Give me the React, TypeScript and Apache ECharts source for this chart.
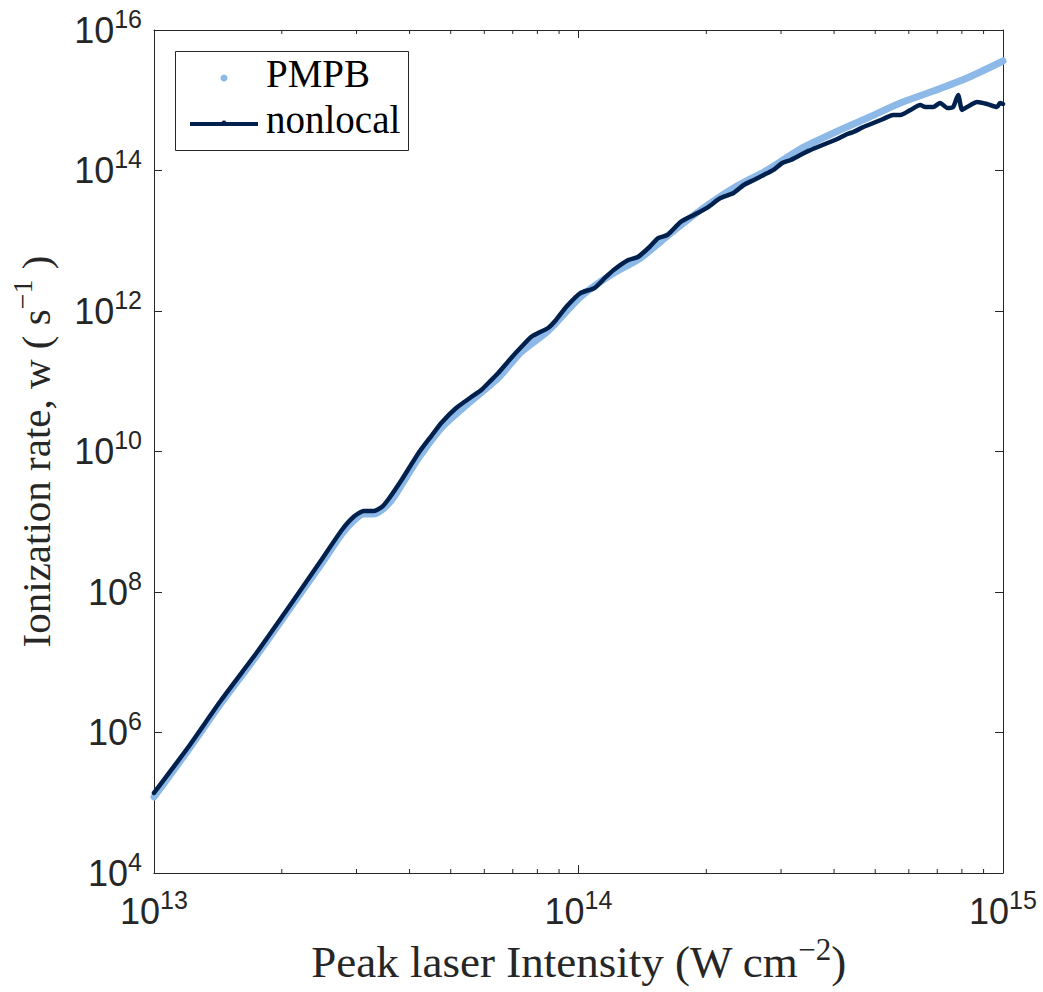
import React, { useEffect, useRef } from "react";
import * as echarts from "echarts";

// ---- data ----
const intensityNonlocal = [
  1.0e13, 1.2e13, 1.44e13, 1.75e13, 2.11e13, 2.46e13, 2.77e13, 2.95e13, 3.12e13, 3.29e13,
  3.44e13, 3.57e13, 3.83e13, 4.2e13, 4.5e13, 4.75e13, 5.15e13, 5.59e13, 5.9e13, 6.23e13,
  6.47e13, 6.94e13, 7.33e13, 7.73e13, 8.03e13, 8.48e13, 8.85e13, 9.35e13, 1.01e14, 1.09e14,
  1.16e14, 1.21e14, 1.31e14, 1.38e14, 1.47e14, 1.54e14, 1.62e14, 1.74e14, 1.87e14, 2.02e14,
  2.16e14, 2.32e14, 2.45e14, 2.59e14, 2.73e14, 2.88e14, 3.02e14, 3.16e14, 3.33e14, 3.48e14,
  3.66e14, 3.86e14, 4.07e14, 4.3e14, 4.44e14, 4.69e14, 4.95e14, 5.22e14, 5.51e14, 5.73e14,
  6.05e14, 6.38e14, 6.56e14, 6.85e14, 7.11e14, 7.39e14, 7.63e14, 7.84e14, 8.01e14, 8.23e14,
  8.69e14, 9.17e14, 9.68e14, 9.84e14, 1.0e15,
];
const rateNonlocal = [
  1.38e5, 6.01e5, 2.9e6, 1.4e7, 6.97e7, 2.67e8, 7.63e8, 1.17e9, 1.42e9, 1.42e9,
  1.62e9, 2.11e9, 3.93e9, 9.52e9, 1.66e10, 2.55e10, 4.16e10, 5.97e10, 7.5e10, 1.04e11,
  1.31e11, 2.14e11, 3.07e11, 4.27e11, 4.86e11, 5.73e11, 7.45e11, 1.14e12, 1.8e12, 2.12e12,
  3.05e12, 3.84e12, 5.32e12, 5.87e12, 8.15e12, 1.09e13, 1.21e13, 1.85e13, 2.33e13, 3.02e13,
  4.06e13, 4.79e13, 6.22e13, 7.33e13, 8.63e13, 1.02e14, 1.28e14, 1.41e14, 1.66e14, 1.9e14,
  2.16e14, 2.46e14, 2.81e14, 3.31e14, 3.53e14, 4.16e14, 4.74e14, 5.41e14, 6.17e14, 6.17e14,
  7.27e14, 8.56e14, 8.02e14, 8.02e14, 9.14e14, 7.76e14, 8.02e14, 1.19e15, 7.27e14, 8.02e14,
  9.44e14, 8.85e14, 8.02e14, 9.14e14, 8.85e14,
];
const intensityPMPB = [
  1.0e13, 1.2e13, 1.44e13, 1.75e13, 2.11e13, 2.46e13, 2.77e13, 2.95e13, 3.12e13, 3.29e13,
  3.44e13, 3.63e13, 3.83e13, 4.2e13, 4.75e13, 5.59e13, 6.47e13, 7.33e13, 8.48e13, 1.01e14,
  1.19e14, 1.4e14, 1.62e14, 1.94e14, 2.32e14, 2.79e14, 3.33e14, 3.99e14, 4.79e14, 5.73e14,
  6.85e14, 8.23e14, 1.0e15,
];
const ratePMPB = [
  1.21e5, 5.46e5, 2.63e6, 1.27e7, 6.32e7, 2.34e8, 6.7e8, 1.03e9, 1.29e9, 1.29e9,
  1.47e9, 2.04e9, 3.34e9, 8.08e9, 2.16e10, 5.24e10, 1.11e11, 2.61e11, 5.19e11, 1.58e12,
  3.25e12, 5.68e12, 1.17e13, 2.74e13, 5.64e13, 1.02e14, 2.02e14, 3.42e14, 5.59e14, 9.14e14,
  1.35e15, 2.07e15, 3.62e15,
];
const xMinorTicks = [
  2e13, 3e13, 4e13, 5e13, 6e13, 7e13, 8e13, 9e13,
  2e14, 3e14, 4e14, 5e14, 6e14, 7e14, 8e14, 9e14,
];
const xRange = [1e13, 1e15];
const yRange = [1e4, 1e16];
const seriesNames = ["PMPB", "nonlocal"];
const xTitle = ["Peak laser Intensity (W cm", "\u22122", ")"];
const yTitle = ["Ionization rate, w ( s", "\u22121", " )"];

// ---- styles ----
const AXIS_COLOR = "#262626";
const PMPB_COLOR = "#8cb9e8";
const NONLOCAL_COLOR = "#00204e";
const SANS = "'Liberation Sans', Arial, Helvetica, sans-serif";
const SERIF = "'Liberation Serif', 'Times New Roman', serif";

const tickRich = {
  b: { fontSize: 36, lineHeight: 48, fontFamily: SANS, color: AXIS_COLOR },
  s: { fontSize: 25, lineHeight: 20, verticalAlign: "top", fontFamily: SANS, color: AXIS_COLOR },
};
const titleRich = (size: number) => ({
  t: { fontSize: size, lineHeight: 56, fontFamily: SERIF, color: AXIS_COLOR },
  s: { fontSize: Math.round(size * 0.68), lineHeight: 46, verticalAlign: "top", fontFamily: SERIF, color: AXIS_COLOR },
});
const powerLabel = (v: number) => `{b|10}{s|${Math.round(Math.log10(v))}}`;

export default function App() {
  const ref = useRef<HTMLDivElement>(null);
  useEffect(() => {
    if (!ref.current) return;
    const chart = echarts.init(ref.current, undefined, { renderer: "svg" });
    const axisLine = { show: true, onZero: false, lineStyle: { color: AXIS_COLOR, width: 1 } };
    const option: any = {
      animation: false,
      backgroundColor: "#ffffff",
      grid: { left: 152, right: 40, top: 30, bottom: 119, containLabel: false },
      xAxis: [
        {
          type: "log", logBase: 10, min: xRange[0], max: xRange[1], interval: 1, position: "bottom",
          axisLine, axisTick: { show: true, inside: true, length: 8, lineStyle: { color: AXIS_COLOR } },
          axisLabel: { formatter: powerLabel, rich: tickRich, margin: 14 },
          splitLine: { show: false }, minorTick: { show: false },
          name: `{t|${xTitle[0]}}{s|${xTitle[1]}}{t|${xTitle[2]}}`,
          nameLocation: "middle", nameGap: 60,
          nameTextStyle: { rich: titleRich(45) },
        },
        {
          type: "log", logBase: 10, min: xRange[0], max: xRange[1], interval: 1, position: "top",
          axisLine, axisTick: { show: true, inside: true, length: 8, lineStyle: { color: AXIS_COLOR } },
          axisLabel: { show: false }, splitLine: { show: false },
        },
      ],
      yAxis: [
        {
          type: "log", logBase: 10, min: yRange[0], max: yRange[1], interval: 2, position: "left",
          axisLine, axisTick: { show: true, inside: true, length: 8, lineStyle: { color: AXIS_COLOR } },
          axisLabel: { formatter: powerLabel, rich: tickRich, margin: 12 },
          splitLine: { show: false },
          name: `{t|${yTitle[0]}}{s|${yTitle[1]}}{t|${yTitle[2]}}`,
          nameLocation: "middle", nameGap: 90, nameRotate: 90,
          nameTextStyle: { rich: titleRich(41) },
        },
        {
          type: "log", logBase: 10, min: yRange[0], max: yRange[1], interval: 2, position: "right",
          axisLine, axisTick: { show: true, inside: true, length: 8, lineStyle: { color: AXIS_COLOR } },
          axisLabel: { show: false }, splitLine: { show: false },
        },
      ],
      series: [
        {
          name: seriesNames[0], type: "line", xAxisIndex: 0, yAxisIndex: 0,
          data: intensityPMPB.map((x, i) => [x, ratePMPB[i]]),
          showSymbol: false, smooth: 0.25,
          lineStyle: { color: PMPB_COLOR, width: 7, cap: "round", join: "round" },
          z: 2,
        },
        {
          name: seriesNames[1], type: "line", xAxisIndex: 0, yAxisIndex: 0,
          data: intensityNonlocal.map((x, i) => [x, rateNonlocal[i]]),
          showSymbol: false, smooth: 0.2,
          lineStyle: { color: NONLOCAL_COLOR, width: 4.5, cap: "round", join: "round" },
          z: 3,
        },
        {
          name: "minorTicks", type: "custom", xAxisIndex: 0, yAxisIndex: 0,
          data: xMinorTicks.map((v) => [v, yRange[0]]),
          clip: false, silent: true, z: 5,
          renderItem: (_params: any, api: any) => {
            const b = api.coord([api.value(0), yRange[0]]);
            const t = api.coord([api.value(0), yRange[1]]);
            return {
              type: "group",
              children: [
                { type: "line", shape: { x1: b[0], y1: b[1], x2: b[0], y2: b[1] - 4 }, style: { stroke: AXIS_COLOR, lineWidth: 1 } },
                { type: "line", shape: { x1: t[0], y1: t[1], x2: t[0], y2: t[1] + 4 }, style: { stroke: AXIS_COLOR, lineWidth: 1 } },
              ],
            };
          },
        },
      ],
      graphic: [
        {
          type: "group", z: 100,
          children: [
            { type: "rect", shape: { x: 175.5, y: 51.5, width: 233, height: 99 }, style: { fill: "#ffffff", stroke: AXIS_COLOR, lineWidth: 1 } },
            { type: "circle", shape: { cx: 224, cy: 78, r: 3.5 }, style: { fill: PMPB_COLOR } },
            { type: "text", x: 266, y: 73, style: { text: seriesNames[0], font: `39px ${SERIF}`, fill: "#000000", verticalAlign: "middle", align: "left" } },
            { type: "line", shape: { x1: 190, y1: 124, x2: 258, y2: 124 }, style: { stroke: NONLOCAL_COLOR, lineWidth: 4 } },
            { type: "circle", shape: { cx: 224, cy: 123, r: 2.5 }, style: { fill: NONLOCAL_COLOR } },
            { type: "text", x: 266, y: 119, style: { text: seriesNames[1], font: `39px ${SERIF}`, fill: "#000000", verticalAlign: "middle", align: "left" } },
          ],
        },
      ],
    };
    chart.setOption(option);
    return () => chart.dispose();
  }, []);
  return <div ref={ref} style={{ position: "absolute", left: 0, top: 0, width: 1043, height: 992 }} />;
}
